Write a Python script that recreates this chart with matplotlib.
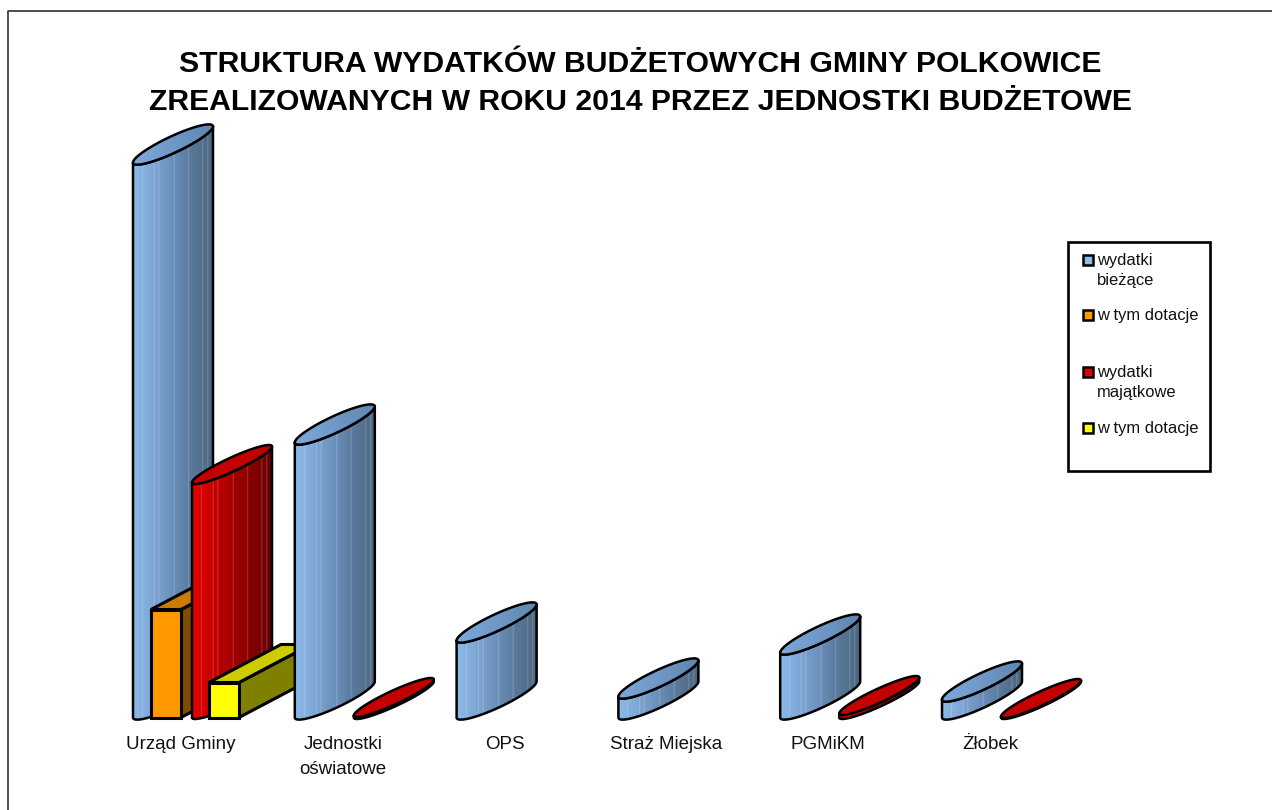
import numpy as np
import matplotlib
matplotlib.use("Agg")
import matplotlib.pyplot as plt
from matplotlib.colors import LinearSegmentedColormap
from matplotlib.lines import Line2D
from matplotlib.patches import PathPatch, Polygon, Rectangle
from matplotlib.path import Path
from matplotlib.transforms import Affine2D

# ---- data (no value axis in the source: heights are relative units)
categories = ["Urząd Gminy", "Jednostki\noświatowe", "OPS", "Straż Miejska", "PGMiKM", "Żłobek"]
wydatki_biezace = [555, 275, 77, 21, 65, 18]
biezace_dotacje = [108, 0, 0, 0, 0, 0]
wydatki_majatkowe = [235, 2, 0, 0, 4, 1]
majatkowe_dotacje = [35, 0, 0, 0, 0, 0]

title_lines = ["STRUKTURA WYDATKÓW BUDŻETOWYCH GMINY POLKOWICE",
               "ZREALIZOWANYCH W ROKU 2014 PRZEZ JEDNOSTKI BUDŻETOWE"]
legend_labels = ["wydatki\nbieżące", "w tym dotacje", "wydatki\nmajątkowe", "w tym dotacje"]
legend_colors = ["#8DBBEA", "#FF9900", "#E00000", "#FFFF00"]

# ---- styles
W, H = 1272, 810
FONT = "Liberation Sans"
plt.rcParams["font.family"] = FONT
PITCH = 161.8            # px between categories
CYL_W = 80 / PITCH       # cylinder width in category units
BOX_W = 30 / PITCH       # box front width
BOX_DX = 72 / PITCH      # box depth, horizontal
BOX_DY = 38              # box depth, vertical
RISE = 36                # cylinder ellipse rise
STRIPES = [.115, .26, .32, .51, .69, .87, .93]
OUT = "#000000"
BELOW = 14               # px of axes below the baseline, room for the curved bases

fig = plt.figure(figsize=(W / 100, H / 100), dpi=100, facecolor="white")
px = Affine2D().scale(1 / W, -1 / H).translate(0, 1) + fig.transFigure

ax_l, ax_r, ax_t, ax_b = 20, 1100, 110, 717.5 + BELOW
ax = fig.add_axes([ax_l / W, 1 - ax_b / H, (ax_r - ax_l) / W, (ax_b - ax_t) / H])
ax.patch.set_visible(False)
ax.set_xlim((ax_l - 181) / PITCH, (ax_r - 181) / PITCH)
ax.set_ylim(-BELOW, ax_b - ax_t - BELOW)
for s in ax.spines.values():
    s.set_visible(False)
ax.set_yticks([])
ax.set_xticks(range(len(categories)))
ax.set_xticklabels(categories, fontsize=13.5, color="#111111", linespacing=1.62, va="top")
ax.tick_params(axis="x", length=0, pad=3.5)
xlim, ylim = ax.get_xlim(), ax.get_ylim()

blue_cm = LinearSegmentedColormap.from_list("b", ["#8CBAEA", "#7DA6D4", "#6A8FBA", "#587798", "#4C6680"])
blue_top = LinearSegmentedColormap.from_list("bt", ["#7CA8DA", "#6F98C6", "#5F86B0"])
red_cm = LinearSegmentedColormap.from_list("r", ["#E60000", "#C80000", "#A40000", "#860000", "#680000"])
red_top = LinearSegmentedColormap.from_list("rt", ["#C80000", "#C00000"])


def gradient(cmap, path, x0, y0, y1, stripes=True):
    g = np.linspace(0, 1, 240)
    rgb = cmap(g)[:, :3]
    if stripes:
        for f in STRIPES:
            i = int(f * 240)
            rgb[i:i + 3] = rgb[i:i + 3] * 0.8 + 0.2
    im = ax.imshow(rgb[np.newaxis, :, :], extent=(x0, x0 + CYL_W, y0, y1),
                   aspect="auto", zorder=ax._z, interpolation="bilinear")
    clip = PathPatch(path, transform=ax.transData, facecolor="none", edgecolor="none")
    im.set_clip_path(clip)


def cylinder(x0, h, side, top, bulge):
    """Oblique cylinder whose base starts at x0; height h in value units."""
    t = np.linspace(0, np.pi, 80)
    xs = x0 + CYL_W / 2 * (1 - np.cos(t))          # left -> right
    up = -RISE / 2 * np.cos(t)                      # rising to the right
    lower = up - bulge * np.sin(t)
    upper = up + bulge * np.sin(t)
    bot_y = RISE / 2 + lower
    top_low = h + RISE / 2 + lower
    top_up = h + RISE / 2 + upper
    ax._z += 1
    body = np.vstack([np.c_[xs, bot_y], np.c_[xs[::-1], top_low[::-1]], [[xs[0], bot_y[0]]]])
    gradient(side, Path(body, closed=True), x0, -BELOW, h + RISE + 5)
    ax.add_patch(Polygon(body, closed=True, fill=False, ec=OUT, lw=1.8, zorder=ax._z + .1, joinstyle="round"))
    ax._z += 1
    cap = np.vstack([np.c_[xs, top_low], np.c_[xs[::-1], top_up[::-1]]])
    gradient(top, Path(np.vstack([cap, cap[:1]]), closed=True), x0, h - 12, h + RISE + 15, stripes=False)
    ax.add_patch(Polygon(cap, closed=True, fill=False, ec=OUT, lw=1.8, zorder=ax._z + .1, joinstyle="round"))


def box(x0, h, front, topc, sidec):
    ax._z += 1
    kw = dict(closed=True, ec=OUT, lw=2.2, zorder=ax._z, joinstyle="miter")
    x1 = x0 + BOX_W
    ax.add_patch(Polygon([[x1, 0], [x1 + BOX_DX, BOX_DY], [x1 + BOX_DX, h + BOX_DY], [x1, h]], fc=sidec, **kw))
    ax.add_patch(Polygon([[x0, h], [x1, h], [x1 + BOX_DX, h + BOX_DY], [x0 + BOX_DX, h + BOX_DY]], fc=topc, **kw))
    ax.add_patch(Polygon([[x0, 0], [x1, 0], [x1, h], [x0, h]], fc=front, **kw))


ax._z = 2
OFF_BLUE, OFF_ORANGE, OFF_RED, OFF_YELLOW = -48 / PITCH, -30 / PITCH, 11 / PITCH, 28 / PITCH
for i in range(len(categories)):
    if wydatki_biezace[i]:
        cylinder(i + OFF_BLUE, wydatki_biezace[i], blue_cm, blue_top, 9)
    if biezace_dotacje[i]:
        box(i + OFF_ORANGE, biezace_dotacje[i], "#FF9900", "#CC7A00", "#804D00")
    if wydatki_majatkowe[i]:
        cylinder(i + OFF_RED, wydatki_majatkowe[i], red_cm, red_top, 7.5)
    if majatkowe_dotacje[i]:
        box(i + OFF_YELLOW, majatkowe_dotacje[i], "#FFFF00", "#CCCC00", "#808000")
ax.set_xlim(xlim)
ax.set_ylim(ylim)
del ax._z

# ---- outer frame
fig.add_artist(Line2D([8, 8, W], [H, 11, 11], transform=px, color="#303030", lw=1.2))

# ---- title
for line, y in zip(title_lines, [63.5, 102.5]):
    fig.text(640.5, y, line, transform=px, ha="center", va="center",
             fontsize=21.7, fontweight="bold", color="black")

# ---- legend
fig.add_artist(Rectangle((1068, 242), 142, 229, transform=px, fc="white", ec="black", lw=1.9, zorder=5))
rows_y = [260, 315, 372, 428]
for label, color, y in zip(legend_labels, legend_colors, rows_y):
    fig.add_artist(Rectangle((1082.5, y - 5.5), 10, 10, transform=px, fc=color, ec="black", lw=1.8, zorder=6))
    fig.text(1097, y - 7, label, transform=px, ha="left", va="top", fontsize=11.9,
             color="#111111", linespacing=1.42, zorder=6)

fig.savefig("out.png", dpi=100, facecolor="white")
